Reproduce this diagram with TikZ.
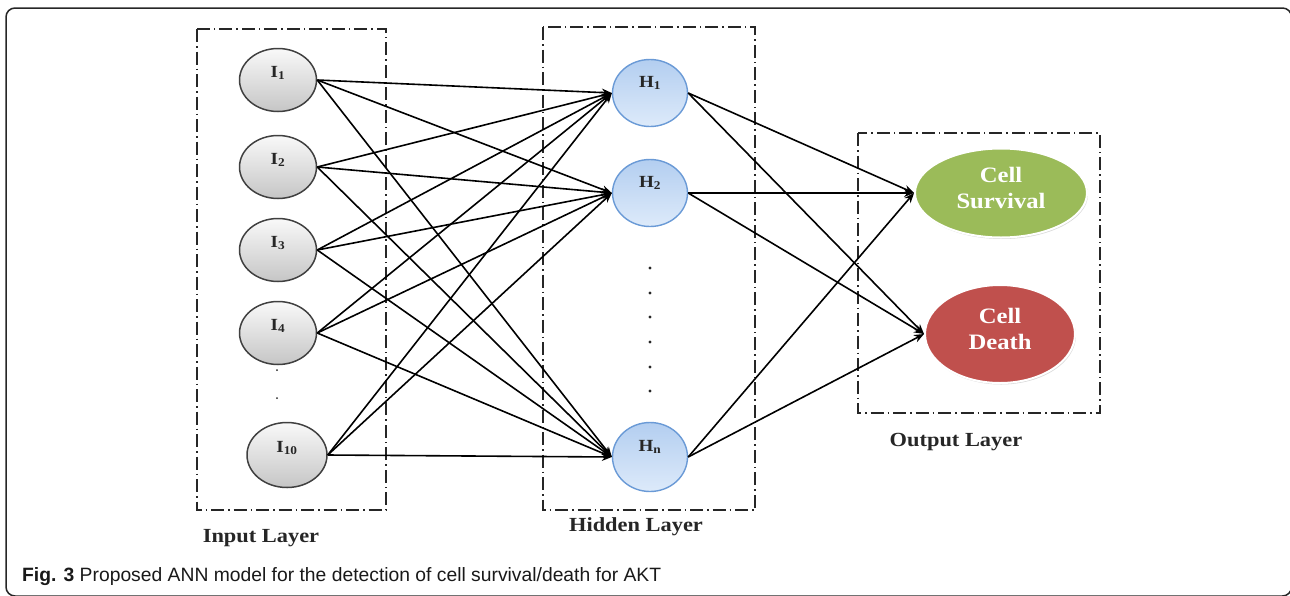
\documentclass[tikz,border=0pt]{standalone}
\usepackage{fontspec}
\setmainfont[FakeStretch=1.12]{Liberation Serif}
\newfontfamily\capfont{Liberation Sans}
\usetikzlibrary{shapes.geometric,arrows.meta,shadows}
\definecolor{htop}{HTML}{B3CEF0}
\definecolor{hbot}{HTML}{DDEAFA}
\definecolor{hborder}{HTML}{6A9AD6}
\definecolor{ogreen}{HTML}{9BBB59}
\definecolor{ored}{HTML}{C0504D}
\begin{document}
\begin{tikzpicture}[x=1pt,y=-1pt,
  inode/.style={ellipse, draw=black!75, line width=1.5pt, top color=gray!5, bottom color=gray!45,
    minimum width=77pt, minimum height=63pt, inner sep=0pt},
  hnode/.style={ellipse, draw=hborder, line width=1.4pt, top color=htop, bottom color=hbot,
    minimum width=75pt, minimum height=67pt, inner sep=0pt},
  onode/.style={ellipse, draw=white, line width=2pt, inner sep=0pt,
    drop shadow={shadow xshift=1pt, shadow yshift=-1.5pt, opacity=0.3}},
  nlbl/.style={font=\fontsize{17}{19}\selectfont\bfseries, text=black!85},
  olbl/.style={font=\fontsize{22}{26}\selectfont\bfseries, text=white, align=center},
  layerbox/.style={draw=black!85, line width=1.6pt, dash pattern=on 13pt off 4pt on 1.5pt off 4pt},
  layerlbl/.style={font=\fontsize{20}{22}\selectfont\bfseries, text=black!85},
  conn/.style={line width=1.6pt, draw=black, -{Stealth[length=10pt,width=8pt]}},
  dotmark/.style={fill=black!85}
]
\useasboundingbox (0,0) rectangle (1290,595);
\draw[line width=1.5pt, draw=black!85, rounded corners=9pt] (6,8) rectangle (1291.5,596);

% layer boxes
\draw[layerbox] (197,29) rectangle (386,510);
\draw[layerbox] (543,27) rectangle (755,510);
\draw[layerbox] (858,133) rectangle (1100,413);

% input nodes
\node[inode, label={[nlbl,yshift=7pt]center:I\textsubscript{1}}] (I1) at (278,80) {};
\node[inode, label={[nlbl,yshift=7pt]center:I\textsubscript{2}}] (I2) at (278,167) {};
\node[inode, label={[nlbl,yshift=7pt]center:I\textsubscript{3}}] (I3) at (278,250) {};
\node[inode, label={[nlbl,yshift=7pt]center:I\textsubscript{4}}] (I4) at (278,333) {};
\node[inode, minimum width=80pt, minimum height=65pt, label={[nlbl,yshift=7pt]center:I\textsubscript{10}}] (I10) at (287,455) {};
\fill[dotmark] (277,370) circle (1pt);
\fill[dotmark] (277,398) circle (1pt);

% hidden nodes
\node[hnode, label={[nlbl,yshift=10pt]center:H\textsubscript{1}}] (H1) at (650,93) {};
\node[hnode, label={[nlbl,yshift=10pt]center:H\textsubscript{2}}] (H2) at (650,193) {};
\node[hnode, minimum height=69pt, label={[nlbl,yshift=10pt]center:H\textsubscript{n}}] (Hn) at (650,457) {};
\foreach \yy in {268,293,317,342,367,391} \fill[dotmark] (650,\yy) circle (1.6pt);

% output nodes
\node[onode, fill=ogreen, minimum width=172pt, minimum height=89pt,
  label={[olbl,yshift=5pt]center:Cell\\Survival}] (S) at (1001,193) {};
\node[onode, fill=ored, minimum width=150pt, minimum height=98pt,
  label={[olbl,yshift=5pt]center:Cell\\Death}] (D) at (1000,334) {};

% connectors
\foreach \i in {I1,I2,I3,I4,I10}
  \foreach \h in {H1,H2,Hn}
    \draw[conn] (\i.east) -- (\h.west);
\foreach \h in {H1,H2,Hn}
  \foreach \o in {S,D}
    \draw[conn] (\h.east) -- (\o.west);

% layer labels
\node[layerlbl] (inlbl) at (261,538) {Input Layer};
\node[layerlbl] (hidlbl) at (636,527) {Hidden Layer};
\node[layerlbl] (outlbl) at (956,442) {Output Layer};

% caption
\node[anchor=base west, inner sep=0pt, font=\capfont\fontsize{19.3}{21}\selectfont, text=black!90] (cap) at (22,581)
  {\textbf{Fig. 3} Proposed ANN model for the detection of cell survival/death for AKT};
\end{tikzpicture}
\end{document}
